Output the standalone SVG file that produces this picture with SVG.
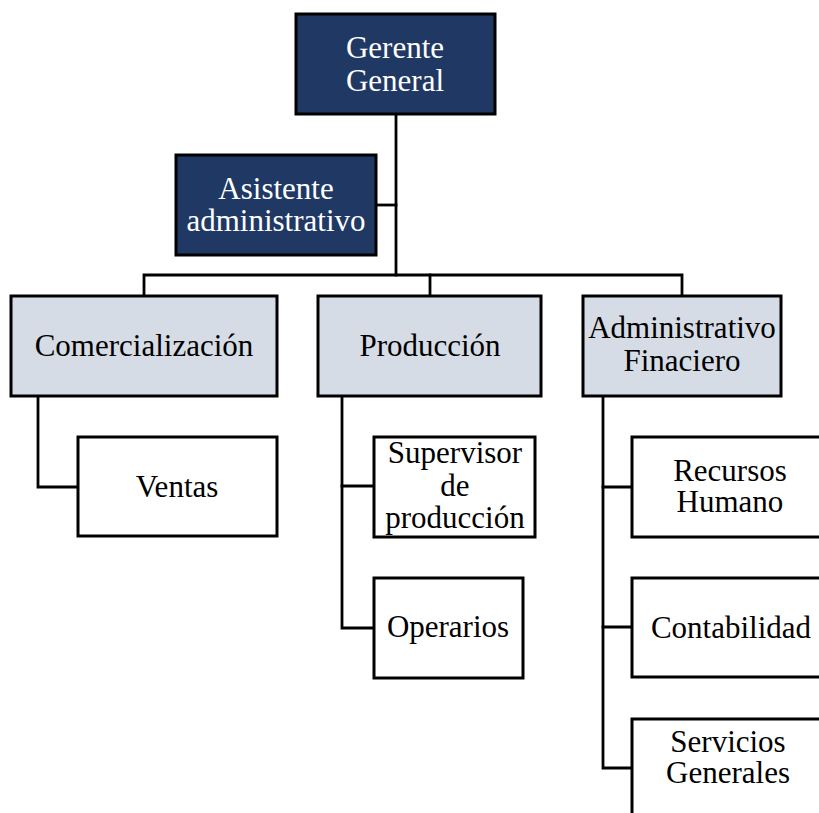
<svg xmlns="http://www.w3.org/2000/svg" width="819" height="813" viewBox="0 0 819 813">
  <style>
    .dark { fill: #1F3864; stroke: #000; stroke-width: 3; }
    .light { fill: #D6DCE5; stroke: #000; stroke-width: 3; }
    .plain { fill: #FFFFFF; stroke: #000; stroke-width: 3; }
    .conn { fill: none; stroke: #000; stroke-width: 2.8; stroke-linecap: square; }
    .w { fill: #FFFFFF; }
  </style>
  <rect width="819" height="813" fill="#FFFFFF"/>

  <!-- connectors -->
  <g id="connectors">
    <path class="conn" d="M396 114 V275"/>
    <path class="conn" d="M376 205 H396"/>
    <path class="conn" d="M144 296 V275 H682 V296"/>
    <path class="conn" d="M430 275 V296"/>
    <path class="conn" d="M38 396 V487 H78"/>
    <path class="conn" d="M342 396 V628 H374"/>
    <path class="conn" d="M342 486 H374"/>
    <path class="conn" d="M603 396 V768 H632"/>
    <path class="conn" d="M603 487 H632"/>
    <path class="conn" d="M603 627 H632"/>
  </g>

  <!-- all node labels share one serif face -->
  <g font-family="Liberation Serif, Tinos, Times New Roman, DejaVu Serif, serif" font-size="31" text-anchor="middle" fill="#000">
    <g id="gerente-general">
      <rect class="dark" x="296" y="14" width="199" height="100"/>
      <text class="w" x="395" y="58">Gerente</text>
      <text class="w" x="395" y="91">General</text>
    </g>

    <g id="asistente-administrativo">
      <rect class="dark" x="176" y="155" width="200" height="100"/>
      <text class="w" x="276" y="199">Asistente</text>
      <text class="w" x="276" y="231">administrativo</text>
    </g>

    <g id="comercializacion">
      <rect class="light" x="11" y="296" width="266" height="100"/>
      <text x="144" y="356">Comercialización</text>
    </g>

    <g id="produccion">
      <rect class="light" x="318" y="296" width="223" height="100"/>
      <text x="430" y="356">Producción</text>
    </g>

    <g id="administrativo-financiero">
      <rect class="light" x="583" y="296" width="198" height="100"/>
      <text x="682" y="338">Administrativo</text>
      <text x="682" y="371">Finaciero</text>
    </g>

    <g id="ventas">
      <rect class="plain" x="78" y="437" width="199" height="99"/>
      <text x="177" y="497">Ventas</text>
    </g>

    <g id="supervisor-produccion">
      <rect class="plain" x="374" y="437" width="161" height="100"/>
      <text x="455" y="463">Supervisor</text>
      <text x="455" y="496">de</text>
      <text x="455" y="528">producción</text>
    </g>

    <g id="operarios">
      <rect class="plain" x="374" y="578" width="149" height="100"/>
      <text x="448" y="637">Operarios</text>
    </g>

    <g id="recursos-humano">
      <rect class="plain" x="632" y="437" width="200" height="100"/>
      <text x="730" y="481">Recursos</text>
      <text x="730" y="512">Humano</text>
    </g>

    <g id="contabilidad">
      <rect class="plain" x="632" y="578" width="200" height="99"/>
      <text x="731" y="638">Contabilidad</text>
    </g>

    <g id="servicios-generales">
      <rect class="plain" x="632" y="719" width="200" height="110"/>
      <text x="728" y="752">Servicios</text>
      <text x="728" y="783">Generales</text>
    </g>
  </g>
</svg>
